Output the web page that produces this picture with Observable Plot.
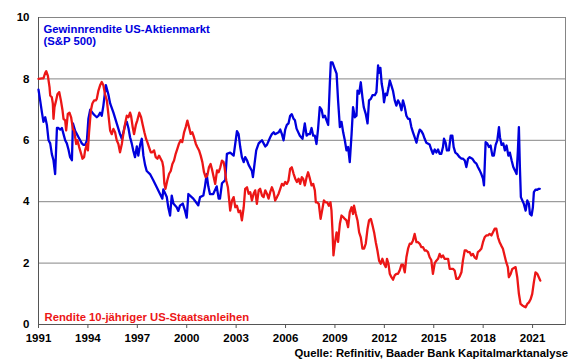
<!DOCTYPE html>
<html><head><meta charset="utf-8">
<script src="https://cdn.jsdelivr.net/npm/d3@7"></script>
<script src="https://cdn.jsdelivr.net/npm/@observablehq/plot@0.6"></script>
<style>html,body{margin:0;padding:0;background:#fff}</style>
</head><body><div id="chart"></div>
<script>
const earningsYieldYears = [1991.00,1991.10,1991.21,1991.30,1991.41,1991.51,1991.61,1991.71,1991.81,1991.91,1992.01,1992.12,1992.21,1992.32,1992.42,1992.52,1992.62,1992.72,1992.82,1992.92,1993.03,1993.09,1993.23,1993.33,1993.43,1993.53,1993.63,1993.73,1993.83,1993.94,1994.03,1994.14,1994.34,1994.44,1994.54,1994.64,1994.74,1994.84,1994.94,1995.09,1995.24,1995.35,1995.55,1995.75,1995.95,1996.06,1996.15,1996.26,1996.36,1996.46,1996.56,1996.66,1996.76,1996.86,1996.97,1997.06,1997.17,1997.27,1997.37,1997.47,1997.57,1997.77,1997.97,1998.18,1998.38,1998.52,1998.58,1998.79,1998.88,1998.99,1999.09,1999.19,1999.39,1999.49,1999.59,1999.76,1999.90,2000.00,2000.10,2000.30,2000.40,2000.61,2000.70,2000.81,2001.01,2001.11,2001.21,2001.31,2001.41,2001.61,2001.82,2001.94,2002.02,2002.14,2002.34,2002.44,2002.64,2002.85,2003.05,2003.15,2003.25,2003.35,2003.46,2003.55,2003.66,2003.76,2003.96,2004.02,2004.12,2004.22,2004.37,2004.46,2004.57,2004.67,2004.77,2004.87,2005.07,2005.17,2005.28,2005.37,2005.58,2005.68,2005.78,2005.88,2005.98,2006.08,2006.18,2006.28,2006.38,2006.49,2006.57,2006.67,2006.87,2007.03,2007.17,2007.28,2007.37,2007.48,2007.58,2007.68,2007.78,2007.88,2007.98,2008.08,2008.19,2008.28,2008.39,2008.49,2008.59,2008.69,2008.75,2008.85,2008.99,2009.10,2009.19,2009.30,2009.40,2009.50,2009.60,2009.70,2009.80,2009.90,2010.01,2010.10,2010.21,2010.31,2010.37,2010.47,2010.57,2010.67,2010.75,2010.87,2010.98,2011.07,2011.18,2011.28,2011.42,2011.52,2011.62,2011.68,2011.76,2011.84,2011.92,2011.98,2012.07,2012.16,2012.25,2012.33,2012.43,2012.53,2012.63,2012.73,2012.83,2012.93,2013.04,2013.13,2013.24,2013.34,2013.44,2013.54,2013.64,2013.74,2013.84,2013.95,2014.04,2014.15,2014.25,2014.35,2014.45,2014.55,2014.75,2014.85,2014.95,2015.06,2015.16,2015.26,2015.36,2015.46,2015.56,2015.62,2015.72,2015.80,2015.92,2016.03,2016.13,2016.21,2016.31,2016.41,2016.57,2016.68,2016.77,2016.88,2016.98,2017.08,2017.18,2017.34,2017.48,2017.59,2017.68,2017.79,2017.89,2017.99,2018.05,2018.15,2018.25,2018.35,2018.45,2018.56,2018.65,2018.76,2018.86,2018.96,2019.02,2019.12,2019.22,2019.32,2019.42,2019.53,2019.62,2019.73,2019.83,2019.93,2020.03,2020.11,2020.17,2020.23,2020.29,2020.38,2020.47,2020.58,2020.68,2020.78,2020.84,2020.94,2021.02,2021.08,2021.18,2021.29,2021.38,2021.44];
const earningsYield = [7.65,7.3,6.9,6.6,6.75,6.5,6.0,5.9,5.55,5.35,4.9,6.4,6.4,6.35,6.4,6.2,6.0,5.9,5.7,5.45,5.35,6.55,6.3,6.2,6.1,6.0,5.9,5.85,5.85,6.0,6.7,7.0,6.85,6.8,6.75,6.8,6.9,6.8,7.13,7.8,7.5,7.2,6.9,6.55,6.2,6.05,6.25,6.5,6.6,6.4,6.1,5.9,5.65,5.45,5.8,5.5,5.85,6.05,5.5,5.2,5.0,4.9,4.7,4.47,4.25,4.1,4.4,4.15,3.82,3.55,4.2,3.94,3.82,3.7,3.87,3.94,3.7,3.48,4.25,4.15,4.1,3.95,3.88,4.15,4.2,4.5,4.9,4.5,4.25,4.25,4.5,4.1,4.1,4.6,4.7,5.56,5.6,5.5,6.3,6.2,5.78,5.45,5.29,5.45,5.35,5.2,5.0,4.8,5.24,5.67,5.9,5.95,6.0,5.9,5.8,5.85,6.1,6.2,6.26,6.2,6.26,6.35,6.2,6.0,6.35,6.5,6.55,6.8,6.85,6.7,6.65,6.38,6.15,6.05,6.55,6.15,6.2,6.2,6.4,6.15,6.15,5.88,6.4,7.08,7.0,6.75,6.8,6.65,6.5,7.84,8.54,8.54,8.33,8.17,7.3,6.43,6.6,6.26,6.0,5.67,5.78,5.29,6.2,7.08,6.75,6.8,7.62,7.52,7.89,7.4,7.08,6.86,6.55,7.3,7.35,7.47,7.47,7.57,8.44,8.2,8.36,7.84,7.6,7.24,7.52,7.47,7.7,7.95,7.78,7.6,7.3,7.13,7.3,7.2,6.98,7.3,7.08,6.8,6.7,6.7,6.43,6.26,6.1,5.92,6.15,6.35,6.3,6.2,6.05,5.92,5.86,5.7,5.56,5.7,5.6,5.7,5.56,5.56,5.78,6.05,5.92,5.67,5.67,6.15,6.15,5.78,5.6,5.56,5.45,5.4,5.4,5.35,5.13,5.4,5.45,5.4,5.29,5.24,5.13,5.02,4.9,4.75,4.53,5.94,5.9,5.78,5.83,5.5,5.5,5.85,6.0,6.43,6.1,5.85,5.9,5.67,5.83,5.5,5.6,5.34,5.13,5.02,4.9,5.67,6.43,5.13,4.15,4.04,3.93,3.71,4.04,3.93,3.6,3.55,3.82,4.31,4.39,4.39,4.42,4.42];
const bondYieldYears = [1991.00,1991.21,1991.30,1991.41,1991.47,1991.57,1991.67,1991.71,1991.81,1991.87,1991.91,1991.97,1992.07,1992.15,1992.26,1992.36,1992.46,1992.52,1992.62,1992.68,1992.78,1992.88,1992.98,1993.09,1993.16,1993.29,1993.36,1993.47,1993.59,1993.67,1993.77,1993.83,1993.94,1994.00,1994.07,1994.18,1994.27,1994.38,1994.48,1994.54,1994.64,1994.74,1994.84,1994.94,1995.04,1995.15,1995.24,1995.35,1995.45,1995.55,1995.65,1995.75,1995.85,1995.95,1996.06,1996.15,1996.26,1996.36,1996.46,1996.56,1996.62,1996.72,1996.80,1996.91,1997.00,1997.12,1997.23,1997.33,1997.43,1997.53,1997.61,1997.71,1997.82,1997.91,1998.02,1998.12,1998.22,1998.32,1998.42,1998.52,1998.58,1998.64,1998.71,1998.82,1998.93,1999.03,1999.13,1999.23,1999.33,1999.43,1999.53,1999.63,1999.73,1999.84,1999.94,2000.04,2000.14,2000.24,2000.34,2000.44,2000.55,2000.64,2000.75,2000.85,2000.95,2001.05,2001.15,2001.25,2001.35,2001.45,2001.55,2001.64,2001.73,2001.84,2001.94,2002.04,2002.14,2002.24,2002.30,2002.40,2002.50,2002.58,2002.64,2002.75,2002.85,2002.95,2003.05,2003.15,2003.25,2003.35,2003.46,2003.55,2003.66,2003.76,2003.86,2003.96,2004.06,2004.16,2004.26,2004.37,2004.46,2004.57,2004.67,2004.77,2004.87,2004.97,2005.07,2005.17,2005.28,2005.37,2005.48,2005.58,2005.68,2005.78,2005.88,2005.98,2006.08,2006.18,2006.28,2006.38,2006.49,2006.59,2006.69,2006.79,2006.89,2006.99,2007.07,2007.17,2007.28,2007.37,2007.48,2007.58,2007.68,2007.78,2007.84,2007.92,2008.02,2008.13,2008.22,2008.33,2008.43,2008.53,2008.63,2008.73,2008.79,2008.85,2008.91,2008.99,2009.10,2009.19,2009.30,2009.40,2009.50,2009.60,2009.70,2009.80,2009.90,2010.01,2010.10,2010.16,2010.27,2010.37,2010.47,2010.57,2010.67,2010.77,2010.87,2010.98,2011.07,2011.18,2011.28,2011.38,2011.48,2011.58,2011.68,2011.78,2011.88,2011.98,2012.09,2012.16,2012.25,2012.33,2012.43,2012.53,2012.63,2012.73,2012.83,2012.93,2013.04,2013.13,2013.24,2013.34,2013.44,2013.54,2013.64,2013.74,2013.84,2013.95,2014.04,2014.15,2014.25,2014.35,2014.45,2014.55,2014.65,2014.75,2014.85,2014.95,2015.06,2015.16,2015.26,2015.36,2015.46,2015.56,2015.66,2015.77,2015.87,2015.97,2016.07,2016.17,2016.27,2016.37,2016.48,2016.58,2016.68,2016.77,2016.88,2016.98,2017.08,2017.18,2017.28,2017.38,2017.48,2017.59,2017.68,2017.79,2017.89,2017.99,2018.09,2018.19,2018.29,2018.39,2018.50,2018.59,2018.70,2018.80,2018.90,2019.00,2019.10,2019.20,2019.30,2019.40,2019.50,2019.56,2019.67,2019.77,2019.87,2019.97,2020.07,2020.17,2020.27,2020.38,2020.47,2020.58,2020.68,2020.78,2020.88,2020.98,2021.08,2021.18,2021.29,2021.38,2021.47];
const bondYield = [8.0,8.02,8.02,8.2,8.25,8.1,7.73,7.46,7.4,7.2,6.7,7.08,7.3,7.5,7.57,7.3,6.97,6.7,6.65,6.32,6.86,6.9,6.75,6.37,6.32,5.88,6.0,5.78,5.56,5.4,5.45,5.67,5.88,5.67,6.26,6.97,7.2,7.3,7.3,7.35,7.62,7.79,7.9,7.79,7.5,7.3,6.86,6.32,6.2,6.37,6.26,6.0,5.88,5.61,5.88,6.2,6.54,6.8,6.75,6.9,6.8,6.43,6.2,6.5,6.65,6.9,6.75,6.5,6.26,6.05,5.94,5.78,5.61,5.61,5.67,5.45,5.4,5.5,5.4,5.29,5.12,4.6,4.42,4.69,4.91,5.0,5.23,5.34,5.56,5.72,5.89,6.0,5.94,6.26,6.43,6.64,6.43,6.21,6.26,6.1,5.89,5.78,5.67,5.5,5.29,4.96,4.8,4.85,5.12,5.23,5.02,4.8,4.58,5.02,4.96,5.12,5.34,5.29,5.12,4.69,4.47,4.04,3.71,4.04,4.15,3.82,3.87,3.66,3.71,3.39,3.82,4.42,4.47,4.26,4.31,4.04,4.26,4.37,3.93,4.37,4.42,4.2,4.15,4.37,4.26,4.1,4.31,4.47,4.31,4.04,4.15,4.26,4.42,4.58,4.53,4.64,4.58,4.69,5.07,5.12,4.91,4.75,4.64,4.75,4.58,4.8,4.75,4.53,4.8,4.96,4.75,4.53,4.58,4.37,3.98,3.98,3.93,3.44,3.71,4.04,3.98,3.98,3.87,3.98,3.71,3.06,2.25,2.63,3.0,2.69,3.28,3.55,3.5,3.44,3.39,3.17,3.66,3.82,3.6,3.87,3.6,3.39,3.0,2.84,2.47,2.47,2.63,3.12,3.39,3.44,3.23,3.0,2.68,2.41,2.08,1.98,2.14,1.98,1.87,2.14,1.98,1.65,1.54,1.46,1.6,1.65,1.65,1.76,1.95,1.95,1.7,2.19,2.47,2.63,2.63,2.74,2.95,2.68,2.68,2.63,2.52,2.52,2.41,2.41,2.36,2.19,2.1,1.65,2.0,2.08,2.14,2.3,2.19,2.25,2.14,2.14,2.14,1.81,1.81,1.81,1.76,1.49,1.49,1.57,1.7,2.08,2.41,2.41,2.36,2.36,2.25,2.3,2.19,2.14,2.36,2.41,2.47,2.68,2.84,2.9,2.9,2.95,2.9,3.0,3.12,3.12,2.84,2.68,2.57,2.47,2.25,2.03,1.87,1.54,1.65,1.81,1.84,1.87,1.54,1.0,0.67,0.62,0.59,0.56,0.67,0.72,0.82,1.0,1.38,1.7,1.65,1.54,1.43];
const xTickYears = [1991,1994,1997,2000,2003,2006,2009,2012,2015,2018,2021];
const yTicks = [0,2,4,6,8,10];
const xDomain = [1991, 2023];
const yDomain = [0, 10];
const blueLabel = "Gewinnrendite US-Aktienmarkt\n(S&P 500)";
const redLabel = "Rendite 10-jähriger US-Staatsanleihen";
const sourceLabel = "Quelle: Refinitiv, Baader Bank Kapitalmarktanalyse";

const BLUE = "#0000dd", RED = "#ec1616", GRID = "#858585", AXIS = "#555555";
const FONT = "'Liberation Sans', Arial, sans-serif";

const blueData = earningsYieldYears.map((t, i) => ({year: t, value: earningsYield[i]}));
const redData = bondYieldYears.map((t, i) => ({year: t, value: bondYield[i]}));

const chart = Plot.plot({
  width: 580, height: 359,
  marginLeft: 38, marginRight: 15, marginTop: 17, marginBottom: 35,
  style: {fontFamily: FONT, fontWeight: "bold", fontSize: "11.5px", color: "#000", background: "#fff", overflow: "visible"},
  x: {domain: xDomain, label: null},
  y: {domain: yDomain, label: null},
  marks: [
    Plot.gridY(yTicks.filter(v => v > yDomain[0]), {stroke: GRID, strokeOpacity: 1, strokeWidth: 1}),
    Plot.frame({stroke: GRID, strokeWidth: 1}),
    Plot.ruleX([xDomain[0]], {stroke: AXIS, strokeWidth: 1}),
    Plot.ruleY([yDomain[0]], {stroke: AXIS, strokeWidth: 1}),
    Plot.line(blueData, {x: "year", y: "value", stroke: BLUE, strokeWidth: 2.3, strokeLinejoin: "round"}),
    Plot.line(redData, {x: "year", y: "value", stroke: RED, strokeWidth: 2.3, strokeLinejoin: "round"}),
    Plot.axisX({ticks: xTickYears, tickFormat: d => String(d), tickSize: 4, tickPadding: 5, stroke: AXIS, fontWeight: "bold", fontSize: 11.5, label: null}),
    Plot.axisY({ticks: yTicks, tickSize: 0, tickPadding: 9, fontWeight: "bold", fontSize: 11.5, label: null}),
    Plot.text([blueLabel], {text: d => d, frameAnchor: "top-left", dx: 5, dy: 6.3, lineAnchor: "top", lineHeight: 1.12, textAnchor: "start", fill: BLUE, fontWeight: "bold", fontSize: 11.3}),
    Plot.text([redLabel], {text: d => d, frameAnchor: "bottom-left", dx: 6, dy: -3.5, lineAnchor: "bottom", textAnchor: "start", fill: RED, fontWeight: "bold", fontSize: 11.3}),
    Plot.text([sourceLabel], {text: d => d, frameAnchor: "bottom-right", dx: 2.5, dy: 32, lineAnchor: "bottom", textAnchor: "end", fill: "#000", fontWeight: "bold", fontSize: 11.3})
  ]
});
document.getElementById("chart").appendChild(chart);
</script>
</body></html>
